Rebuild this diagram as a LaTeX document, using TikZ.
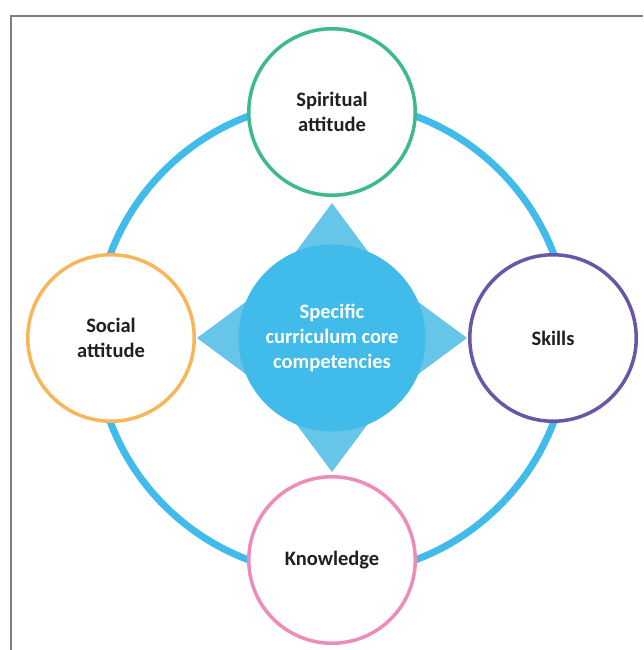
\documentclass[tikz,border=0pt]{standalone}
\usepackage{fontspec}
\setmainfont{Carlito}
\usepackage{xcolor}
\usetikzlibrary{calc}
\definecolor{ringblue}{HTML}{40BBEA}
\definecolor{arrowblue}{HTML}{67C5EA}
\definecolor{spiritgreen}{HTML}{3DB98A}
\definecolor{socialorange}{HTML}{F8B65B}
\definecolor{skillpurple}{HTML}{6A56A6}
\definecolor{knowpink}{HTML}{EE8BB9}
\definecolor{textdark}{HTML}{231F20}
\tikzset{
  comp/.style={circle, draw, line width=3.5pt, fill=white, minimum size=166.5pt, inner sep=0pt,
    align=center, text=textdark, font=\fontsize{20.5}{24.5}\selectfont\bfseries},
  core/.style={circle, fill=ringblue, minimum size=187pt, inner sep=0pt,
    align=center, text=white, font=\fontsize{20.5}{25}\selectfont\bfseries}
}

\begin{document}
\begin{tikzpicture}[x=1pt,y=-1pt]
\useasboundingbox (0,0) rectangle (643,650);
\draw[color=gray, line width=1.5pt] (11,650) -- (11,16) -- (643,16);

\coordinate (c) at (332,338);
\draw[ringblue, line width=7pt] (c) circle (237pt);

\fill[arrowblue] (332,203) -- (232,338) -- (432,338) -- cycle;
\fill[arrowblue] (332,472) -- (232,338) -- (432,338) -- cycle;
\fill[arrowblue] (197,338) -- (332,238) -- (332,438) -- cycle;
\fill[arrowblue] (467,338) -- (332,238) -- (332,438) -- cycle;
\node[core] (centre) at (c) {Specific\\curriculum core\\competencies};

\node[comp, draw=spiritgreen] (spiritual) at (332,112) {Spiritual\\attitude};
\node[comp, draw=socialorange] (social) at (111,338) {Social\\attitude};
\node[comp, draw=skillpurple] (skills) at (553,338) {Skills};
\node[comp, draw=knowpink] (knowledge) at (332,560) {Knowledge};

\end{tikzpicture}
\end{document}
